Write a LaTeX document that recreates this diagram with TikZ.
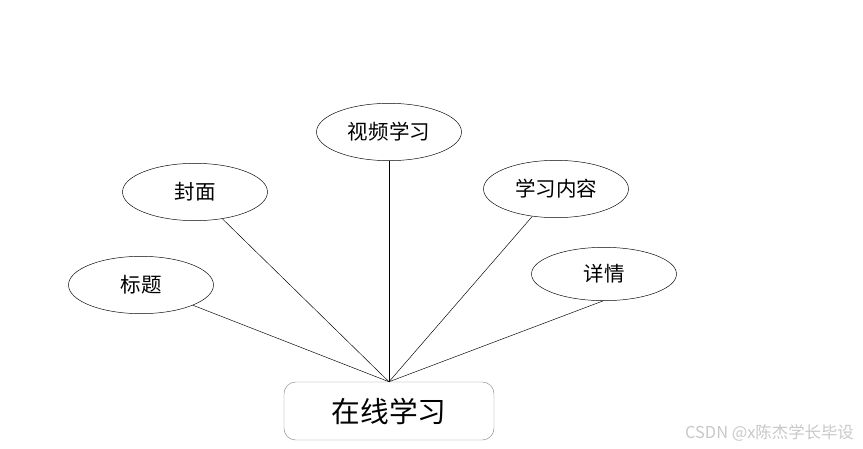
\documentclass[tikz,border=0pt]{standalone}
\usepackage{fontspec}
\setmainfont{Noto Sans CJK SC}
\usetikzlibrary{shapes.geometric}
\definecolor{edgegrey}{HTML}{8A8A8A}
\definecolor{markgrey}{HTML}{C8C8C8}

\begin{document}
\begin{tikzpicture}[x=0.03cm,y=-0.03cm,
    attr/.style={ellipse,draw,thin,minimum width=4.35cm,minimum height=1.72cm,
                 inner sep=0pt,font=\fontsize{17.5}{17.5}\selectfont},
    entity/.style={rectangle,draw=edgegrey,rounded corners=10pt,minimum width=6.3cm,
                   minimum height=1.74cm,font=\fontsize{24.5}{24.5}\selectfont}]
    \useasboundingbox (0,0) rectangle (863,449);

    % entity
    \node[entity] (study) at (389,411) {在线学习};

    % attributes
    \node[attr] (title)   at (141,285) {标题};
    \node[attr] (cover)   at (195,192) {封面};
    \node[attr] (video)   at (389,132) {视频学习};
    \node[attr] (content) at (556,189) {学习内容};
    \node[attr,minimum height=1.6cm] (detail) at (604,274) {详情};

    % links
    \foreach \a in {title,cover,video,content}
      \draw[thin] (study.north) -- (\a);
    \draw[thin] (study.north) -- (detail.268);

    % watermark
    \node[anchor=east,text=markgrey,font=\fontsize{14}{14}\selectfont] (mark) at (858,433) {CSDN @x陈杰学长毕设};
\end{tikzpicture}
\end{document}
